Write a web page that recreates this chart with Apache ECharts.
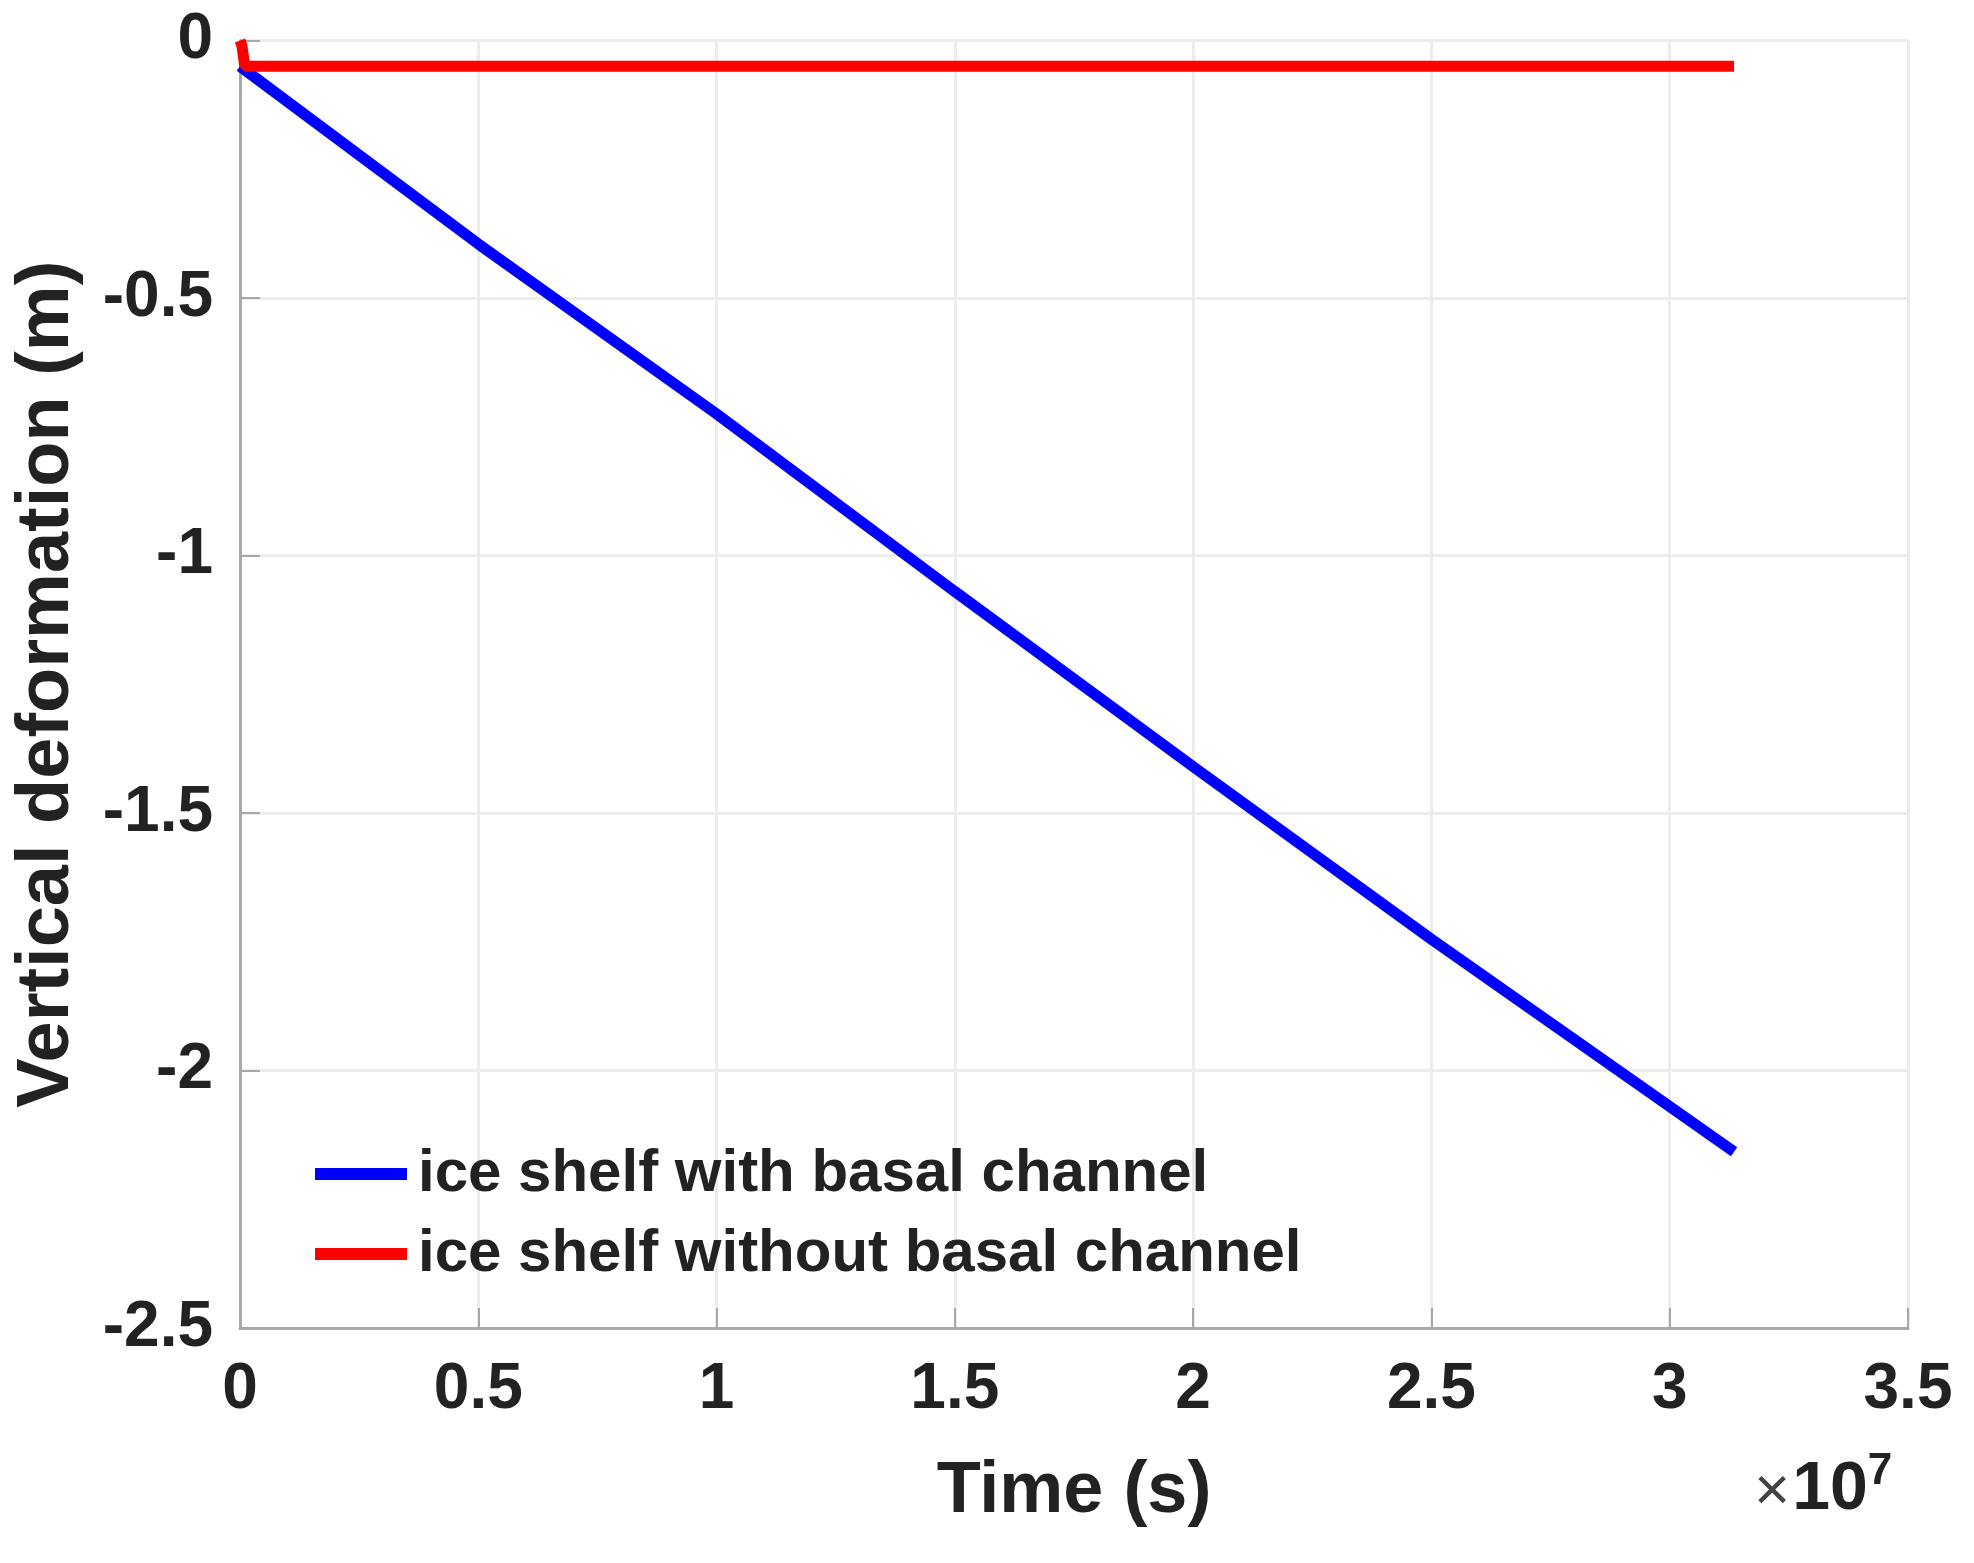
<!DOCTYPE html>
<html>
<head>
<meta charset="utf-8">
<script src="https://cdn.jsdelivr.net/npm/echarts@6/dist/echarts.min.js"></script>
<style>
  html, body { margin: 0; padding: 0; background: #fff; }
  #chart { width: 1974px; height: 1563px; }
</style>
</head>
<body>
<div id="chart"></div>
<script>
'use strict';

// time in seconds, deformation in metres
const withChannelTime = [0, 0.5e7, 1.0e7, 1.5e7, 2.0e7, 2.5e7, 3.0e7, 3.135e7]
const withChannelDef = [-0.05, -0.395, -0.725, -1.07, -1.41, -1.745, -2.07, -2.158]
const withoutChannelTime = [0, 0.004e7, 0.01e7, 3.135e7]
const withoutChannelDef = [0, -0.01, -0.05, -0.05]
const seriesNames = ['ice shelf with basal channel', 'ice shelf without basal channel']
const seriesColors = ['#0000ff', '#ff0000']

const font = '"Liberation Sans", Arial, sans-serif'
const pairs = (xs, ys) => xs.map((x, i) => [x, ys[i]])

var chart = echarts.init(document.getElementById('chart'))
chart.setOption({
    backgroundColor: '#ffffff',
    animation: false,
    grid: { left: 240, right: 66, top: 40.5, bottom: 235 },
    xAxis: {
        type: 'value', min: 0, max: 3.5e7, interval: 0.5e7,
        name: 'Time (s)', nameLocation: 'middle', nameGap: 128,
        nameTextStyle: { fontFamily: font, fontWeight: 'bold', fontSize: 72, lineHeight: 72, color: '#222' },
        axisLine: { onZero: false, lineStyle: { color: '#a8a8a8', width: 3 } },
        axisTick: { inside: true, length: 20, lineStyle: { color: '#a8a8a8', width: 2 } },
        splitLine: { show: true, lineStyle: { color: '#ececec', width: 3 } },
        axisLabel: {
            margin: 30, fontFamily: font, fontWeight: 'bold', fontSize: 64, lineHeight: 64, color: '#222',
            formatter: v => String(+(v / 1e7).toFixed(1))
        }
    },
    yAxis: {
        type: 'value', min: -2.5, max: 0, interval: 0.5,
        name: 'Vertical deformation (m)', nameLocation: 'middle', nameGap: 155, nameRotate: 90,
        nameTextStyle: { fontFamily: font, fontWeight: 'bold', fontSize: 74, lineHeight: 74, color: '#222' },
        axisLine: { show: true, onZero: false, lineStyle: { color: '#a8a8a8', width: 3 } },
        axisTick: { show: true, inside: true, length: 20, lineStyle: { color: '#a8a8a8', width: 2 } },
        splitLine: { show: true, lineStyle: { color: '#ececec', width: 3 } },
        axisLabel: { margin: 27, fontFamily: font, fontWeight: 'bold', fontSize: 64, color: '#222' }
    },
    legend: {
        orient: 'vertical', left: 310, top: 1139, itemGap: 20,
        itemWidth: 92, itemHeight: 12, icon: 'rect',
        textStyle: { fontFamily: font, fontWeight: 'bold', fontSize: 60, lineHeight: 60, color: '#222', padding: [0, 0, 0, 6] },
        data: seriesNames
    },
    series: [
        {
            name: seriesNames[0], type: 'line', showSymbol: false, clip: false,
            color: seriesColors[0], lineStyle: { width: 11, color: seriesColors[0] },
            data: pairs(withChannelTime, withChannelDef)
        },
        {
            name: seriesNames[1], type: 'line', showSymbol: false, clip: false,
            color: seriesColors[1], lineStyle: { width: 11, color: seriesColors[1] },
            data: pairs(withoutChannelTime, withoutChannelDef)
        }
    ],
    graphic: [{
        type: 'text', left: 1754, top: 1450,
        style: {
            text: '{x|×}{b|10}{s|7}', fill: '#222',
            rich: {
                x: { fontFamily: font, fontSize: 62, fill: '#444', padding: [12, 2, 0, 0], verticalAlign: 'bottom' },
                b: { fontFamily: font, fontWeight: 'bold', fontSize: 68, fill: '#222', verticalAlign: 'bottom' },
                s: { fontFamily: font, fontWeight: 'bold', fontSize: 44, fill: '#222', verticalAlign: 'top' }
            }
        }
    }]
})
</script>
</body>
</html>
